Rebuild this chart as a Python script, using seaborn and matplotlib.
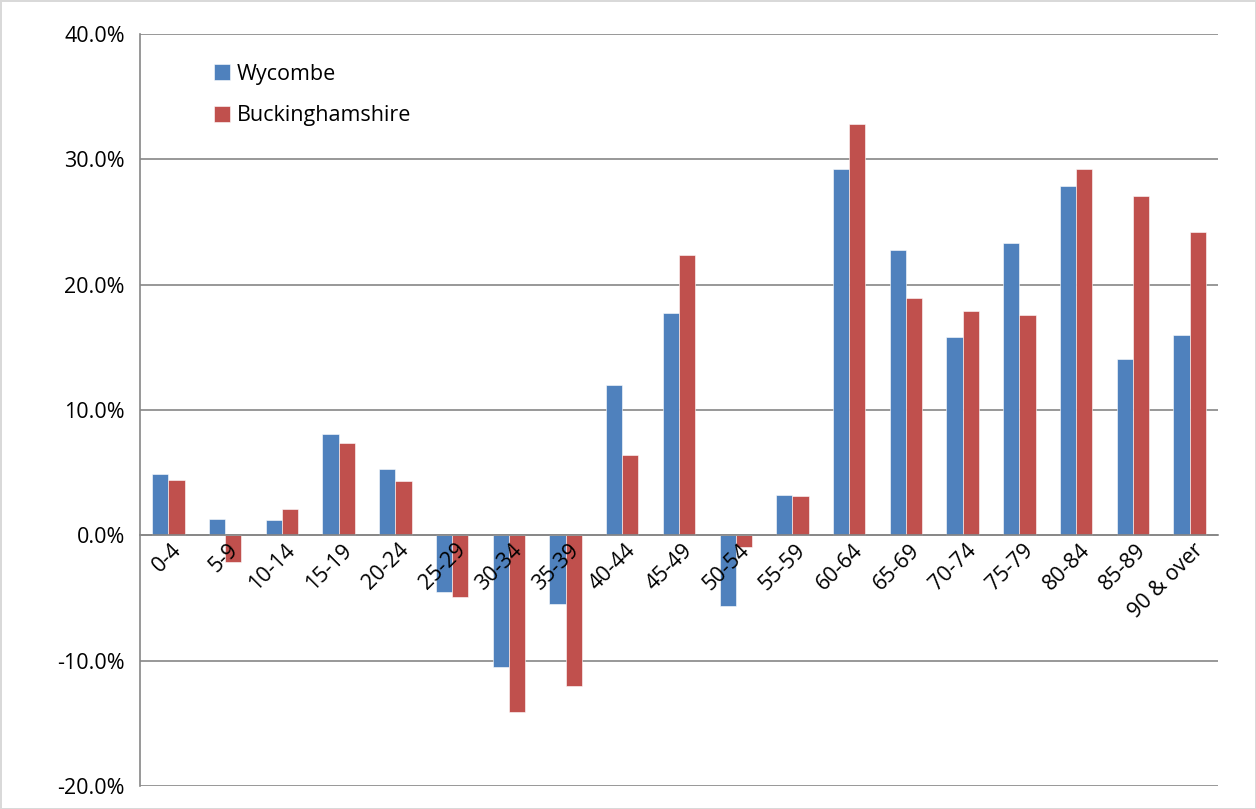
import numpy as np
import pandas as pd
import seaborn as sns
import matplotlib.pyplot as plt
import matplotlib.transforms as mtransforms
from matplotlib.ticker import FuncFormatter, FixedLocator

age_groups = ['0-4', '5-9', '10-14', '15-19', '20-24', '25-29', '30-34', '35-39',
              '40-44', '45-49', '50-54', '55-59', '60-64', '65-69', '70-74',
              '75-79', '80-84', '85-89', '90 & over']
wycombe = [4.9, 1.3, 1.2, 8.1, 5.3, -4.5, -10.5, -5.5, 12.0, 17.7, -5.6, 3.2,
           29.2, 22.8, 15.8, 23.3, 27.9, 14.1, 16.0]
bucks = [4.4, -2.1, 2.1, 7.4, 4.3, -4.9, -14.1, -12.0, 6.4, 22.4, -0.9, 3.1,
         32.8, 18.9, 17.9, 17.6, 29.2, 27.1, 24.2]

df = pd.DataFrame({
    'age': age_groups * 2,
    'change': wycombe + bucks,
    'area': ['Wycombe'] * len(age_groups) + ['Buckinghamshire'] * len(age_groups),
})

sns.set_style('white')
plt.rcParams['font.family'] = ['Open Sans', 'DejaVu Sans']
plt.rcParams['text.color'] = 'black'
plt.rcParams['xtick.labelcolor'] = 'black'
plt.rcParams['ytick.labelcolor'] = 'black'

fig = plt.figure(figsize=(12.56, 8.09), dpi=100)
ax = fig.add_axes([0.1115, 0.0284, 0.8582, 0.9296])

sns.barplot(data=df, x='age', y='change', hue='area', order=age_groups,
            palette=['#4F81BD', '#C0504D'], width=0.57, saturation=1,
            edgecolor='white', linewidth=0.4, ax=ax)

grid_col = '#868686'
ax.set_ylim(-20, 40)
ax.set_xlim(-0.5, len(age_groups) - 0.5)
yt = np.arange(-20, 41, 10)
ax.set_yticks(yt)
ax.yaxis.set_major_formatter(FuncFormatter(lambda v, p: f'{v:.1f}%'))
# gridlines under the bars, axis (and its labels) above them
for v in yt:
    ax.axhline(v, color=grid_col, linewidth=1.2, zorder=0)
ax.set_axisbelow(False)

for s in ['top', 'right']:
    ax.spines[s].set_visible(False)
ax.spines['left'].set_color(grid_col)
ax.spines['left'].set_linewidth(1.2)
ax.spines['bottom'].set_position(('data', 0))
ax.spines['bottom'].set_color(grid_col)
ax.spines['bottom'].set_linewidth(1.2)

ax.tick_params(axis='y', direction='out', length=6, width=1.2, color=grid_col,
               labelsize=15.5, pad=5, labelcolor='black')
ax.tick_params(axis='x', which='major', length=0, labelsize=15.5, pad=3,
               labelcolor='black')
ax.xaxis.set_minor_locator(FixedLocator(np.arange(0.5, len(age_groups), 1)))
ax.tick_params(axis='x', which='minor', direction='out', length=6, width=1.2,
               color=grid_col)
shift = mtransforms.ScaledTranslation(3 / 100, 0, fig.dpi_scale_trans)
for lab in ax.get_xticklabels():
    lab.set_rotation(45)
    lab.set_ha('right')
    lab.set_rotation_mode('anchor')
    lab.set_transform(lab.get_transform() + shift)

ax.set_xlabel('')
ax.set_ylabel('')

handles, labels = ax.get_legend_handles_labels()
ax.legend(handles, labels, loc='upper left', bbox_to_anchor=(0.155, 0.945),
          bbox_transform=fig.transFigure, frameon=False, fontsize=15.5,
          handlelength=0.75, handleheight=0.75, handletextpad=0.3,
          labelspacing=0.95, labelcolor='black')

fig.patch.set_edgecolor('#d9d9d9')
fig.patch.set_linewidth(2)
plt.savefig('out.png', dpi=100, edgecolor='#d9d9d9', facecolor='white')
